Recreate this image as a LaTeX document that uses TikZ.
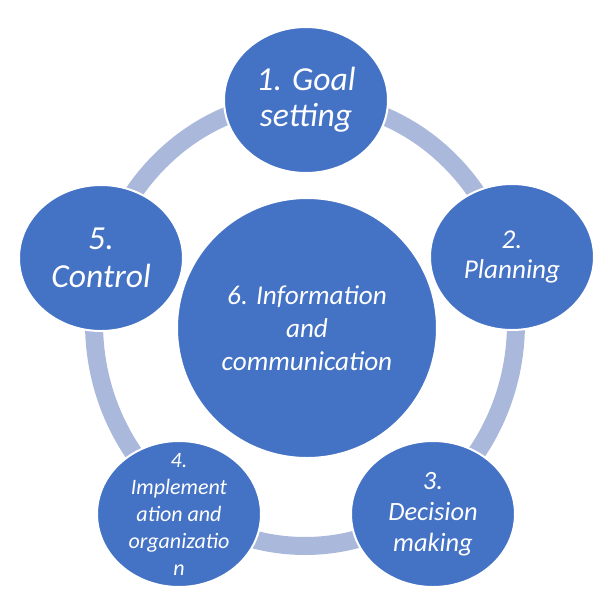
\documentclass[tikz,border=0pt]{standalone}
\usepackage{fontspec}
\setmainfont{Carlito}
\usetikzlibrary{shapes.geometric}
\definecolor{stageblue}{RGB}{68,114,196}
\definecolor{ringblue}{RGB}{170,185,219}

\begin{document}
\begin{tikzpicture}[x=0.5pt, y=-0.5pt,
  stage/.style={ellipse, draw=white, line width=1pt, fill=stageblue, inner sep=0pt, minimum width=82pt, minimum height=73pt},
  core/.style={stage, minimum width=130pt, minimum height=130pt},
  caption/.style={text=white, align=center, inner sep=0pt},
  ringline/.style={draw=ringblue, line width=9pt}]
\fill[white] (0,0) rectangle (612,612);
\useasboundingbox (0,0) rectangle (612,612);

% ring behind the stages
\coordinate (hub) at (305,323);
\draw[ringline] (hub) ellipse [x radius=211, y radius=223];

\node[core, label={[caption, font=\itshape\fontsize{13.6}{16.5}\selectfont]center:6. Information\\and\\communication}] (info) at (307,328) {};
\node[stage, label={[caption, font=\itshape\fontsize{16.8}{17.8}\selectfont]center:1. Goal\\setting}] (goal) at (306,100) {};
\node[stage, label={[caption, font=\itshape\fontsize{13.6}{15}\selectfont]center:2.\\Planning}] (plan) at (512,257) {};
\node[stage, label={[caption, font=\itshape\fontsize{13.2}{15.5}\selectfont]center:3.\\Decision\\making}] (decide) at (433,514) {};
\node[stage, label={[caption, font=\itshape\fontsize{11}{13.5}\selectfont]center:4.\\Implement\\ation and\\organizatio\\n}] (impl) at (179,514) {};
\node[stage, label={[caption, font=\itshape\fontsize{16.8}{19}\selectfont]center:5.\\Control}] (ctrl) at (101,258) {};
\end{tikzpicture}
\end{document}
